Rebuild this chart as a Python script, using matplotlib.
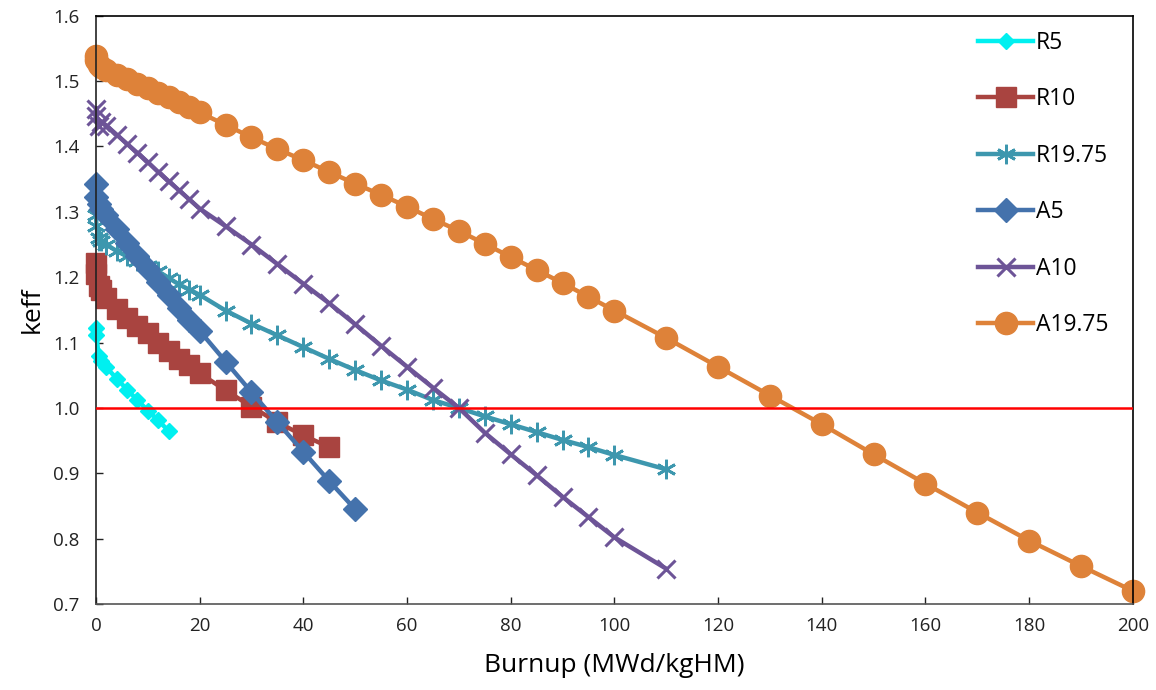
import numpy as np
import matplotlib
matplotlib.use("Agg")
import matplotlib.pyplot as plt

plt.rcParams['font.family'] = ['Open Sans', 'DejaVu Sans']

# burnup steps (MWd/kgHM)
steps = [0, 0.1, 0.5, 1, 2, 4, 6, 8, 10, 12, 14, 16, 18, 20,
         25, 30, 35, 40, 45, 50, 55, 60, 65, 70, 75, 80, 85, 90, 95, 100,
         110, 120, 130, 140, 150, 160, 170, 180, 190, 200]

r5 = [1.122, 1.112, 1.080, 1.072, 1.062, 1.045, 1.028, 1.012, 0.996, 0.981, 0.965]
r10 = [1.222, 1.205, 1.186, 1.180, 1.168, 1.152, 1.137, 1.125, 1.114, 1.100,
       1.087, 1.075, 1.065, 1.053, 1.027, 1.002, 0.978, 0.958, 0.940]
r1975 = [1.295, 1.278, 1.260, 1.255, 1.250, 1.240, 1.232, 1.225, 1.217, 1.209,
         1.199, 1.189, 1.181, 1.173, 1.149, 1.129, 1.111, 1.093, 1.075, 1.058,
         1.042, 1.028, 1.012, 1.000, 0.987, 0.975, 0.963, 0.951, 0.940, 0.928,
         0.906]
a5 = [1.342, 1.322, 1.312, 1.305, 1.295, 1.273, 1.253, 1.233, 1.213, 1.193,
      1.173, 1.153, 1.135, 1.118, 1.071, 1.024, 0.978, 0.933, 0.888, 0.845]
a10 = [1.458, 1.447, 1.432, 1.438, 1.432, 1.418, 1.404, 1.390, 1.376, 1.361,
       1.347, 1.333, 1.319, 1.305, 1.278, 1.250, 1.220, 1.190, 1.160, 1.128,
       1.095, 1.063, 1.031, 1.000, 0.962, 0.929, 0.897, 0.864, 0.833, 0.802,
       0.754]
a1975 = [1.538, 1.532, 1.525, 1.521, 1.517, 1.510, 1.503, 1.496, 1.489, 1.482,
         1.475, 1.468, 1.460, 1.452, 1.433, 1.414, 1.396, 1.379, 1.361, 1.343,
         1.326, 1.308, 1.289, 1.271, 1.251, 1.231, 1.211, 1.191, 1.170, 1.149,
         1.107, 1.063, 1.019, 0.975, 0.929, 0.884, 0.840, 0.797, 0.758, 0.720]

series = [
    ("R5", r5, "#00F0F0", "D", 8.5, 1),
    ("R10", r10, "#A94440", "s", 14, 1),
    ("R19.75", r1975, "#3D97AE", (6, 2, 0), 14, 2),
    ("A5", a5, "#4472AC", "D", 12.5, 1),
    ("A10", a10, "#6D5497", "x", 13, 2.2),
    ("A19.75", a1975, "#DE8239", "o", 16, 1),
]

fig = plt.figure(figsize=(11.56, 6.9), dpi=100)
ax = fig.add_axes([0.083, 0.1246, 0.897, 0.8526])

for name, vals, col, mk, ms, mew in series:
    ax.plot(steps[:len(vals)], vals, color=col, lw=3.2, marker=mk, ms=ms,
            mfc=col, mec=col, mew=mew, label=name, clip_on=False)

ax.axhline(1.0, color="red", lw=1.8, zorder=5)

ax.set_xlim(0, 200)
ax.set_ylim(0.7, 1.6)
ax.set_xticks(np.arange(0, 201, 20))
ax.set_yticks(np.arange(0.7, 1.61, 0.1))
ax.yaxis.set_major_formatter(matplotlib.ticker.FormatStrFormatter('%.1f'))
ax.tick_params(direction='in', length=5, width=1, labelsize=13.5,
               colors='#222222', pad=9)
ax.tick_params(axis='y', pad=12)
for s in ax.spines.values():
    s.set_linewidth(1.2)
ax.spines['left'].set_color('#222222')
ax.spines['bottom'].set_color('#555555')

ax.set_xlabel("Burnup (MWd/kgHM)", fontsize=19, labelpad=13)
ax.set_ylabel("keff", fontsize=19, labelpad=6)

leg = ax.legend(loc='upper left', bbox_to_anchor=(0.842, 0.99),
                frameon=False, fontsize=16.5, handlelength=2.4,
                handletextpad=0.1, labelspacing=1.42, borderaxespad=0)

fig.savefig("out.png", dpi=100)
